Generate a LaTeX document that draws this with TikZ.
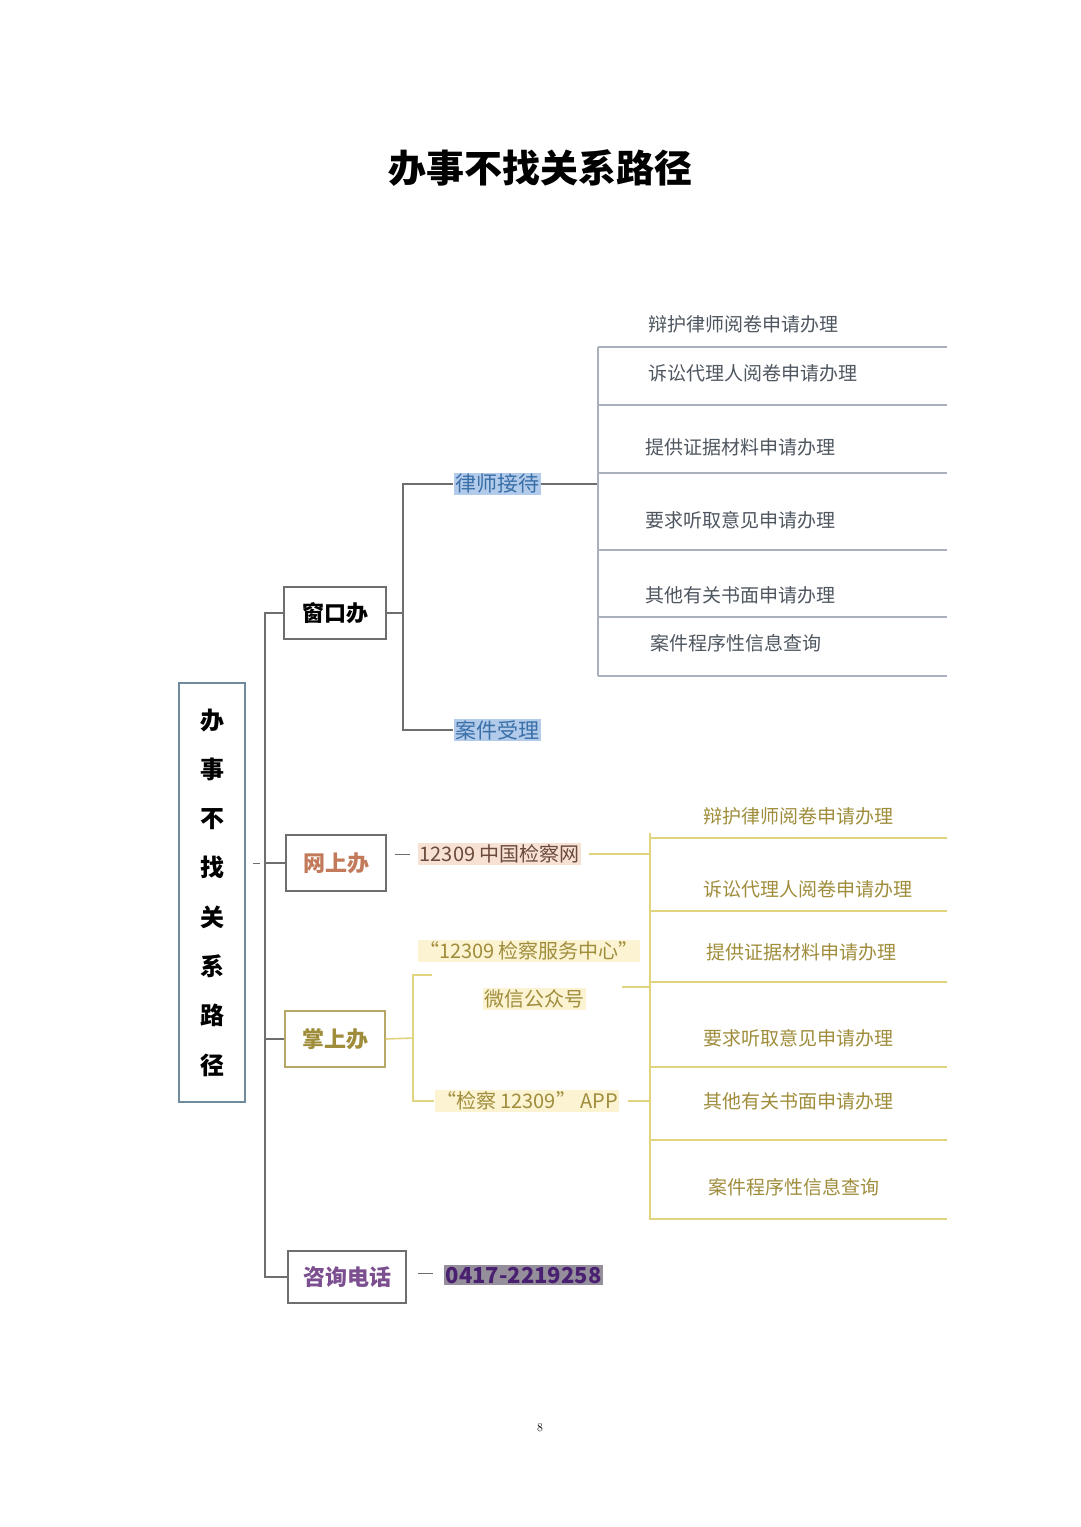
\documentclass[tikz,border=0pt]{standalone}
\usepackage{fontspec}
\newfontfamily\cjk{Noto Sans CJK SC}

\definecolor{linegray}{HTML}{6E6E6E}
\definecolor{rootframe}{HTML}{6F8C9C}
\definecolor{tablegray}{HTML}{A9B2BC}
\definecolor{textgray}{HTML}{4E5660}
\definecolor{lawblue}{HTML}{3A6FA8}
\definecolor{lawfill}{HTML}{B2CBEA}
\definecolor{webfill}{HTML}{F7E1D3}
\definecolor{webtext}{HTML}{C27A5A}
\definecolor{webdark}{HTML}{6A4A3A}
\definecolor{appline}{HTML}{E2D37F}
\definecolor{apptext}{HTML}{A08D3C}
\definecolor{appfill}{HTML}{FBF3D2}
\definecolor{appframe}{HTML}{B8A868}
\definecolor{telpurple}{HTML}{7C4F90}
\definecolor{telfill}{HTML}{958F9C}
\definecolor{teltext}{HTML}{4A2070}

\begin{document}
\begin{tikzpicture}[x=1pt, y=-1pt,
    branch/.style={draw=linegray, line width=1.3pt, minimum height=52pt, inner sep=0pt, font=\cjk\fontsize{22}{22}\selectfont\bfseries},
    trunkline/.style={draw=linegray, line width=1.3pt},
    tableline/.style={draw=tablegray, line width=1.1pt},
    yellowline/.style={draw=appline, line width=1.6pt},
    tabletext/.style={anchor=west, inner sep=0pt, text=textgray, font=\cjk\fontsize{19}{19}\selectfont},
    yellowtext/.style={anchor=west, inner sep=0pt, text=apptext, font=\cjk\fontsize{19}{19}\selectfont},
    marked/.style={inner sep=1.5pt, font=\cjk\fontsize{21}{21}\selectfont}]

    \useasboundingbox[fill=white] (0,0) rectangle (1080,1527);

    % 1. Titolo e numero di pagina
    \node (title) at (540,168) {\cjk\fontsize{38}{38}\selectfont\bfseries 办事不找关系路径};
    \node (page) at (540,1428) {\fontsize{12}{12}\selectfont 8};

    % 2. Riquadro principale con testo verticale
    \node[draw=rootframe, line width=1.3pt, minimum width=66pt, minimum height=419pt, inner sep=0pt,
          align=center, font=\cjk\fontsize{24}{49.3}\selectfont\bfseries] (root) at (212,892.5)
          {办\\事\\不\\找\\关\\系\\路\\径};

    % 3. I quattro rami
    \node[branch, minimum width=102pt] (wkb) at (335,613) {窗口办};
    \node[branch, minimum width=100pt, minimum height=56pt, text=webtext] (wsb) at (336,863) {网上办};
    \node[branch, draw=appframe, minimum width=100pt, minimum height=56pt, text=apptext] (zsb) at (335,1039) {掌上办};
    \node[branch, minimum width=118pt, text=telpurple] (zx) at (347,1277) {咨询电话};

    % 4. Tronco verticale
    \coordinate (tr) at (265,900);
    \draw[trunkline] (wkb.west) -| (tr) |- (zx.west);
    \draw[trunkline] (wsb.west) -- (wsb.west -| tr);
    \draw[trunkline] (zsb.west) -- (zsb.west -| tr);
    \draw[trunkline, line width=0.8pt] (root.east |- wsb.west) ++(7,0) -- ++(7,0);

    % 5. 窗口办: 律师接待 e 案件受理
    \node[marked, fill=lawfill, text=lawblue] (lsjd) at (497,484) {律师接待};
    \node[marked, fill=lawfill, text=lawblue] (ajsl) at (497,730) {案件受理};
    \coordinate (wk) at (403,613);
    \draw[trunkline] (wkb.east) -- (wk);
    \draw[trunkline] (lsjd.west) -| (wk) |- (ajsl.west);
    \coordinate (ls) at (598,484);
    \draw[trunkline] (lsjd.east) -- (ls);

    % 6. Tabella a destra (grigia)
    \draw[tableline] (598,347) -- (598,676);
    \foreach \y in {347,405,473,550,617,676}
        \draw[tableline] (598,\y) -- (947,\y);
    \node[tabletext] (t1) at (648,324) {辩护律师阅卷申请办理};
    \node[tabletext] (t2) at (648,373) {诉讼代理人阅卷申请办理};
    \node[tabletext] (t3) at (645,447) {提供证据材料申请办理};
    \node[tabletext] (t4) at (645,520) {要求听取意见申请办理};
    \node[tabletext] (t5) at (645,595) {其他有关书面申请办理};
    \node[tabletext] (t6) at (650,643) {案件程序性信息查询};

    % 7. 网上办 e 掌上办
    \node[marked, anchor=west, fill=webfill, text=webdark, font=\cjk\fontsize{20}{20}\selectfont] (web) at (418,854) {12309 中国检察网};
    \draw[trunkline, line width=1pt] (web.west) ++(-23,0) -- ++(15,0);
    \node[marked, fill=appfill, text=apptext, font=\cjk\fontsize{20}{20}\selectfont] (fwzx) at (529,951) {“12309 检察服务中心”};
    \node[marked, fill=appfill, text=apptext, font=\cjk\fontsize{20}{20}\selectfont] (wx) at (534,999) {微信公众号};
    \node[marked, fill=appfill, text=apptext, font=\cjk\fontsize{20}{20}\selectfont] (app) at (527,1101) {“检察 12309” APP};
    \coordinate (zs) at (413,1038);
    \draw[yellowline] (zsb.east) -- (zs);
    \draw[yellowline] (432,975) -| (zs) |- (app.west);
    \coordinate (yv) at (650,987);
    \draw[yellowline] (web.east) ++(8,0) -- (web.east -| yv);
    \draw[yellowline] (622,987) -- (yv);
    \draw[yellowline] (app.east) ++(8,0) -- (app.east -| yv);

    % 8. Tabella a destra (gialla)
    \draw[yellowline] (650,833) -- (650,1220);
    \foreach \y in {838,911,982,1067,1140,1219}
        \draw[yellowline] (650,\y) -- (947,\y);
    \node[yellowtext] (y1) at (703,816) {辩护律师阅卷申请办理};
    \node[yellowtext] (y2) at (703,889) {诉讼代理人阅卷申请办理};
    \node[yellowtext] (y3) at (706,952) {提供证据材料申请办理};
    \node[yellowtext] (y4) at (703,1038) {要求听取意见申请办理};
    \node[yellowtext] (y5) at (703,1101) {其他有关书面申请办理};
    \node[yellowtext] (y6) at (708,1187) {案件程序性信息查询};

    % 9. 咨询电话
    \node[marked, anchor=west, fill=telfill, text=teltext, font=\cjk\fontsize{22}{22}\selectfont\bfseries] (tel) at (444,1275) {0417-2219258};
    \draw[trunkline, line width=1pt] (tel.west) ++(-26,-2) -- ++(15,0);

\end{tikzpicture}
\end{document}
